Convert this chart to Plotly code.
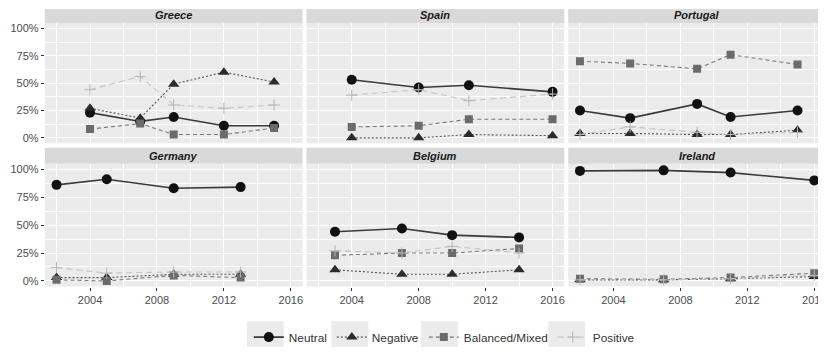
import plotly.graph_objects as go

# ---------------- data ----------------
countries = ["Greece", "Spain", "Portugal", "Germany", "Belgium", "Ireland"]

greece_years = [2004, 2007, 2009, 2012, 2015]
greece_neutral = [0.23, 0.15, 0.19, 0.11, 0.11]
greece_negative = [0.27, 0.18, 0.49, 0.60, 0.51]
greece_balanced = [0.08, 0.13, 0.03, 0.03, 0.09]
greece_positive = [0.44, 0.56, 0.30, 0.27, 0.30]

spain_years = [2004, 2008, 2011, 2016]
spain_neutral = [0.53, 0.46, 0.48, 0.42]
spain_negative = [0.00, 0.00, 0.03, 0.02]
spain_balanced = [0.10, 0.11, 0.17, 0.17]
spain_positive = [0.39, 0.44, 0.34, 0.40]

portugal_years = [2002, 2005, 2009, 2011, 2015]
portugal_neutral = [0.25, 0.18, 0.31, 0.19, 0.25]
portugal_negative = [0.04, 0.04, 0.03, 0.03, 0.07]
portugal_balanced = [0.70, 0.68, 0.63, 0.76, 0.67]
portugal_positive = [0.03, 0.10, 0.05, 0.03, 0.05]

germany_years = [2002, 2005, 2009, 2013]
germany_neutral = [0.86, 0.91, 0.83, 0.84]
germany_negative = [0.03, 0.03, 0.06, 0.06]
germany_balanced = [0.01, 0.00, 0.05, 0.03]
germany_positive = [0.12, 0.07, 0.08, 0.08]

belgium_years = [2003, 2007, 2010, 2014]
belgium_neutral = [0.44, 0.47, 0.41, 0.39]
belgium_negative = [0.10, 0.06, 0.06, 0.10]
belgium_balanced = [0.23, 0.25, 0.25, 0.29]
belgium_positive = [0.27, 0.25, 0.31, 0.25]

ireland_years = [2002, 2007, 2011, 2016]
ireland_neutral = [0.985, 0.99, 0.97, 0.90]
ireland_negative = [0.01, 0.01, 0.02, 0.04]
ireland_balanced = [0.02, 0.015, 0.03, 0.07]
ireland_positive = [0.01, 0.01, 0.02, 0.05]

tones = ["Neutral", "Negative", "Balanced/Mixed", "Positive"]
x_ticks = [2004, 2008, 2012, 2016]
x_minor = [2002, 2006, 2010, 2014]
y_ticks = [0, 0.25, 0.5, 0.75, 1.0]
y_labels = ["0%", "25%", "50%", "75%", "100%"]
y_minor = [0.125, 0.375, 0.625, 0.875]

panel_data = {
    "Greece": (greece_years, [greece_neutral, greece_negative, greece_balanced, greece_positive]),
    "Spain": (spain_years, [spain_neutral, spain_negative, spain_balanced, spain_positive]),
    "Portugal": (portugal_years, [portugal_neutral, portugal_negative, portugal_balanced, portugal_positive]),
    "Germany": (germany_years, [germany_neutral, germany_negative, germany_balanced, germany_positive]),
    "Belgium": (belgium_years, [belgium_neutral, belgium_negative, belgium_balanced, belgium_positive]),
    "Ireland": (ireland_years, [ireland_neutral, ireland_negative, ireland_balanced, ireland_positive]),
}

# ---------------- styles ----------------
# the page body has an 8px default margin, so the figure is offset by 8px
OFF = 8
WIN_W, WIN_H = 826, 352
W, H = WIN_W - OFF, WIN_H - OFF


def px(X):
    return (X - OFF) / W


def py(Y):
    return min(1.0, 1 - (Y - OFF) / H)


styles = {
    "Neutral": dict(line=dict(color="#3a3a3a", width=1.6, dash="solid"),
                    marker=dict(symbol="circle", size=10, color="#111111")),
    "Negative": dict(line=dict(color="#555555", width=1.1, dash="2px,2px"),
                     marker=dict(symbol="triangle-up", size=10, color="#2b2b2b")),
    "Balanced/Mixed": dict(line=dict(color="#7a7a7a", width=1.1, dash="4px,3px"),
                           marker=dict(symbol="square", size=8, color="#6b6b6b")),
    "Positive": dict(line=dict(color="#c4c4c4", width=1.1, dash="6px,4px"),
                     marker=dict(symbol="cross-thin-open", size=8,
                                 line=dict(color="#b5b5b5", width=1), color="#b5b5b5")),
}

# panel geometry in window pixels
col_px = [(45, 304), (308, 567), (571, 830)]
row_px = [(5, 22, 143.5), (148, 164, 288)]  # strip top, plot top, plot bottom
x0, x1 = 2001.3, 2016.7

fig = go.Figure()
layout_axes = {}
shapes = []
annotations = []
tick_font = dict(family="Liberation Sans, Arial", size=11, color="#4d4d4d")

for i, c in enumerate(countries):
    r, cc = divmod(i, 3)
    n = i + 1
    xa = "x" if n == 1 else f"x{n}"
    ya = "y" if n == 1 else f"y{n}"
    xl = "xaxis" if n == 1 else f"xaxis{n}"
    yl = "yaxis" if n == 1 else f"yaxis{n}"
    lx, rx = col_px[cc]
    st, pt, pb = row_px[r]
    vis_rx = min(rx, WIN_W)
    xr = [x0, x0 + (x1 - x0) * (vis_rx - lx) / (rx - lx)]
    layout_axes[xl] = dict(
        domain=[px(lx), px(vis_rx)], anchor=ya, range=xr,
        tickvals=x_ticks, ticktext=[str(v) for v in x_ticks],
        showticklabels=(r == 1), ticks="outside" if r == 1 else "",
        ticklen=3, tickcolor="#333333", tickfont=tick_font,
        ticklabeloverflow="allow",
        showgrid=True, gridcolor="white", gridwidth=1.1,
        minor=dict(tickvals=x_minor, showgrid=True, gridcolor="white", gridwidth=0.5),
        zeroline=False, showline=False, fixedrange=True,
    )
    layout_axes[yl] = dict(
        domain=[py(pb), py(pt)], anchor=xa, range=[-0.05, 1.05],
        tickvals=y_ticks, ticktext=y_labels,
        showticklabels=(cc == 0), ticks="outside" if cc == 0 else "",
        ticklen=3, tickcolor="#333333", tickfont=tick_font,
        showgrid=True, gridcolor="white", gridwidth=1.1,
        minor=dict(tickvals=y_minor, showgrid=True, gridcolor="white", gridwidth=0.5),
        zeroline=False, showline=False, fixedrange=True,
    )
    shapes.append(dict(type="rect", xref="paper", yref="paper",
                       x0=px(lx), x1=px(vis_rx), y0=py(pb), y1=py(pt),
                       fillcolor="#EBEBEB", line=dict(width=0), layer="below"))
    shapes.append(dict(type="rect", xref="paper", yref="paper",
                       x0=px(lx), x1=px(vis_rx), y0=py(pt), y1=py(st),
                       fillcolor="#D9D9D9", line=dict(width=0), layer="below"))
    annotations.append(dict(xref="paper", yref="paper",
                            x=px((lx + rx) / 2), y=py((st + pt) / 2 + 0.5),
                            text=f"<b><i>{c}</i></b>", showarrow=False,
                            font=dict(family="Liberation Sans, Arial", size=11, color="#1a1a1a"),
                            xanchor="center", yanchor="middle"))

    years, series = panel_data[c]
    for tone, vals in zip(tones, series):
        s = styles[tone]
        fig.add_trace(go.Scatter(
            x=years, y=vals, mode="lines+markers", name=tone,
            legendgroup=tone, showlegend=(i == 0),
            line=s["line"], marker=s["marker"],
            xaxis=xa, yaxis=ya, hoverinfo="skip",
        ))

# grey legend key backgrounds (ggplot style)
for kx in [248, 333, 423, 551]:
    shapes.append(dict(type="rect", xref="paper", yref="paper",
                       x0=px(kx), x1=px(kx + 37), y0=py(349), y1=py(323),
                       fillcolor="#EBEBEB", line=dict(width=0), layer="below"))

fig.update_layout(
    width=W, height=H,
    margin=dict(l=0, r=0, t=0, b=0),
    paper_bgcolor="white", plot_bgcolor="rgba(0,0,0,0)",
    shapes=shapes, annotations=annotations,
    showlegend=True,
    legend=dict(orientation="h", x=px(250), xanchor="left", y=py(339), yanchor="middle",
                font=dict(family="Liberation Sans, Arial", size=11.8, color="#333333"),
                itemwidth=30, bgcolor="rgba(0,0,0,0)", traceorder="normal"),
    **layout_axes,
)

fig.write_html("out.html")
